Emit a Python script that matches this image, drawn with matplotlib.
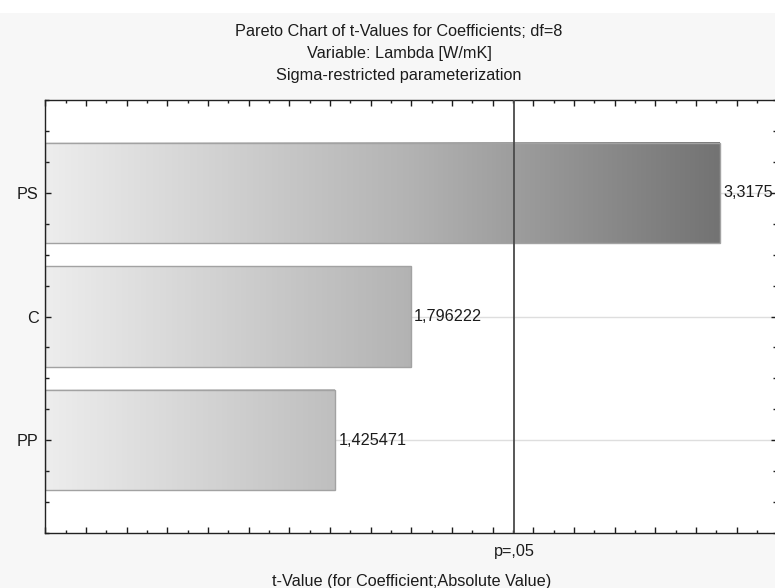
import matplotlib
matplotlib.use("Agg")
import matplotlib.pyplot as plt
import matplotlib.patches as mpatches
import matplotlib.transforms as mtransforms
from matplotlib.colors import LinearSegmentedColormap
from matplotlib.ticker import MultipleLocator, FixedLocator, NullFormatter
import numpy as np

# ---------------------------------------------------------------------------
# Data
# ---------------------------------------------------------------------------

effects = ["PS", "C", "PP"]
t_values = [3.317500, 1.796222, 1.425471]
t_crit = 2.306004          # two-sided t, alpha=0.05, df=8
crit_label = "p=,05"

title_lines = [
    "Pareto Chart of t-Values for Coefficients; df=8",
    "Variable: Lambda [W/mK]",
    "Sigma-restricted parameterization",
]
x_label = "t-Value (for Coefficient;Absolute Value)"

# ---------------------------------------------------------------------------
# Style
# ---------------------------------------------------------------------------

FS = 11.7
plt.rcParams.update({
    "font.family": ["Liberation Sans", "DejaVu Sans"],
    "font.size": FS,
    "text.color": "#1c1c1c",
    "axes.labelcolor": "#1c1c1c",
})

FIG_BG = "#f7f7f7"
bar_cmap = LinearSegmentedColormap.from_list(
    "bar_grad", [(0.0, "#ededed"), (0.54, "#b3b3b3"), (1.0, "#737373")])


def fmt_comma(v):
    # 6 decimals, comma separator, trailing zeros dropped
    s = f"{v:.6f}".rstrip("0").rstrip(".")
    return s.replace(".", ",")


fig = plt.figure(figsize=(7.75, 5.88), dpi=100, facecolor=FIG_BG)
# white strip along the top edge
fig.patches.append(mpatches.Rectangle((0, 0.978), 1, 0.022, transform=fig.transFigure,
                                      facecolor="white", edgecolor="none", zorder=0))

ax = fig.add_axes([0.0585, 0.0935, 0.9445, 0.7364])
ax.set_facecolor("white")

ys = np.arange(len(effects))
bar_h = 0.81
vmax = max(t_values)

ax.set_xlim(0, 3.6)
ax.set_ylim(len(effects) - 0.25, -0.75)

# faint guide lines through the category centres
for y in ys:
    ax.axhline(y, color="#dedede", linewidth=1.0, zorder=0.5)

# gradient-filled bars (shade follows absolute t position)
for y, v in zip(ys, t_values):
    grad = np.linspace(0, v, 256).reshape(1, -1)
    ax.imshow(grad, cmap=bar_cmap, vmin=0, vmax=vmax, aspect="auto",
              extent=(0, v, y + bar_h / 2, y - bar_h / 2), zorder=1,
              interpolation="bilinear")
    ax.barh(y, v, height=bar_h, fill=False, edgecolor="#a2a2a2", linewidth=1.0, zorder=2)
    ax.text(v + 0.018, y, fmt_comma(v), ha="left", va="center", fontsize=FS,
            color="#1c1c1c", zorder=3, clip_on=False)

ax.axvline(t_crit, color="#4a4a4a", linewidth=1.3, zorder=3)

# x ticks: unlabeled long/short marks, only the critical value gets a label
ax.xaxis.set_major_locator(MultipleLocator(0.2))
ax.xaxis.set_minor_locator(MultipleLocator(0.1))
ax.xaxis.set_major_formatter(NullFormatter())
trans = mtransforms.blended_transform_factory(ax.transData, ax.transAxes)
ax.text(t_crit, -0.025, crit_label, transform=trans, ha="center", va="top", fontsize=FS)

ax.yaxis.set_major_locator(FixedLocator(ys))
ax.set_yticklabels(effects)
ax.yaxis.set_minor_locator(MultipleLocator(0.25))
ax.tick_params(axis="both", which="both", direction="in", top=True, right=True,
               colors="#1c1c1c", labelsize=FS)
ax.tick_params(axis="x", which="major", length=4, width=1.0)
ax.tick_params(axis="x", which="minor", length=2.5, width=1.0)
ax.tick_params(axis="y", which="major", length=4, width=1.0, pad=5)
ax.tick_params(axis="y", which="minor", length=3, width=1.0)

for s in ax.spines.values():
    s.set_color("#222222")
    s.set_linewidth(1.0)

ax.set_xlabel(x_label, fontsize=FS, labelpad=26)

for i, line in enumerate(title_lines):
    fig.text(0.515, 0.947 - i * 0.0374, line, ha="center", va="center", fontsize=FS,
             color="#1c1c1c")

fig.savefig("out.png", dpi=100, facecolor=FIG_BG)
